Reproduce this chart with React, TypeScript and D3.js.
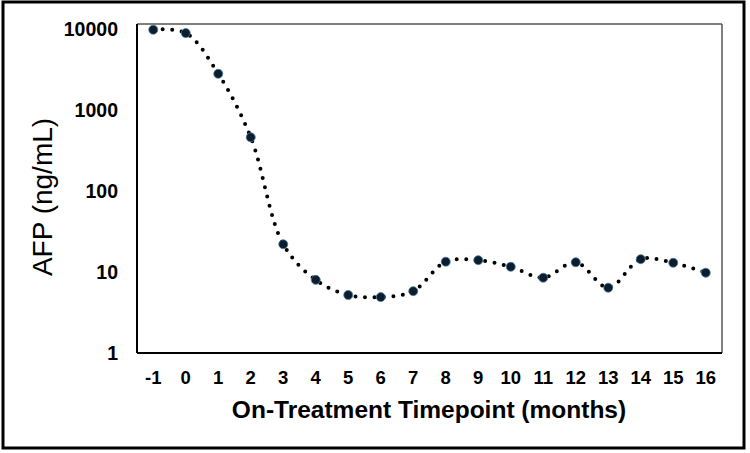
import React from "react";
import * as d3 from "d3";

const timepoints = ["-1", "0", "1", "2", "3", "4", "5", "6", "7", "8", "9", "10", "11", "12", "13", "14", "15", "16"];
const afpValues = [9800, 8900, 2800, 460, 22, 8.0, 5.2, 4.9, 5.8, 13.4, 14.0, 11.6, 8.5, 13.2, 6.4, 14.4, 13.0, 9.8];
const yTicks = [1, 10, 100, 1000, 10000];

const W = 750;
const H = 453;
const plot = { left: 137, right: 722, top: 24, bottom: 353 };

export default function App() {
  const x = d3.scaleBand<string>().domain(timepoints).range([plot.left, plot.right]);
  const y = d3.scaleLog().domain([1, 10000]).range([plot.bottom, 29]);
  const cx = (d: string) => (x(d) as number) + x.bandwidth() / 2;
  const pts: [number, number][] = timepoints.map((t, i) => [cx(t), y(afpValues[i])]);
  const line = d3.line<[number, number]>().x(d => d[0]).y(d => d[1]).curve(d3.curveCatmullRom.alpha(0.5));
  const font = "'Liberation Sans', Arial, sans-serif";

  return (
    <svg width={W} height={H} style={{ position: "absolute", left: 0, top: 0, background: "#fff" }} fontFamily={font}>
      <rect x={0} y={0} width={W} height={H} fill="#fff" />
      <rect x={3} y={2} width={741} height={446} fill="none" stroke="#000" strokeWidth={3} />
      {/* plot frame */}
      <line x1={plot.left} x2={plot.right} y1={plot.top} y2={plot.top} stroke="#555" strokeWidth={1.5} />
      <line x1={plot.right} x2={plot.right} y1={plot.top} y2={plot.bottom} stroke="#555" strokeWidth={1.5} />
      <line x1={plot.left} x2={plot.left} y1={plot.top} y2={plot.bottom} stroke="#000" strokeWidth={2} />
      <line x1={plot.left} x2={plot.right} y1={plot.bottom} y2={plot.bottom} stroke="#000" strokeWidth={2} />
      {/* y ticks */}
      {yTicks.map(t => (
        <text key={t} x={118} y={y(t) + 7} textAnchor="end" fontSize={19.5} fontWeight="bold" fill="#000">
          {t}
        </text>
      ))}
      {/* x ticks */}
      {timepoints.map(t => (
        <text key={t} x={cx(t)} y={384} textAnchor="middle" fontSize={18.5} fontWeight="bold" fill="#000">
          {t}
        </text>
      ))}
      <text x={429} y={418} textAnchor="middle" fontSize={24.5} fontWeight="bold" fill="#000">
        On-Treatment Timepoint (months)
      </text>
      <text transform={`translate(52,197) rotate(-90)`} textAnchor="middle" fontSize={28} fill="#000">
        AFP (ng/mL)
      </text>
      {/* line */}
      <path d={line(pts) || ""} fill="none" stroke="#000" strokeWidth={4} strokeLinecap="round" strokeDasharray="0 9.5" />
      {pts.map((p, i) => (
        <circle key={i} cx={p[0]} cy={p[1]} r={4.5} fill="#0b1d2e" stroke="#4a7c99" strokeWidth={0.8} />
      ))}
    </svg>
  );
}
